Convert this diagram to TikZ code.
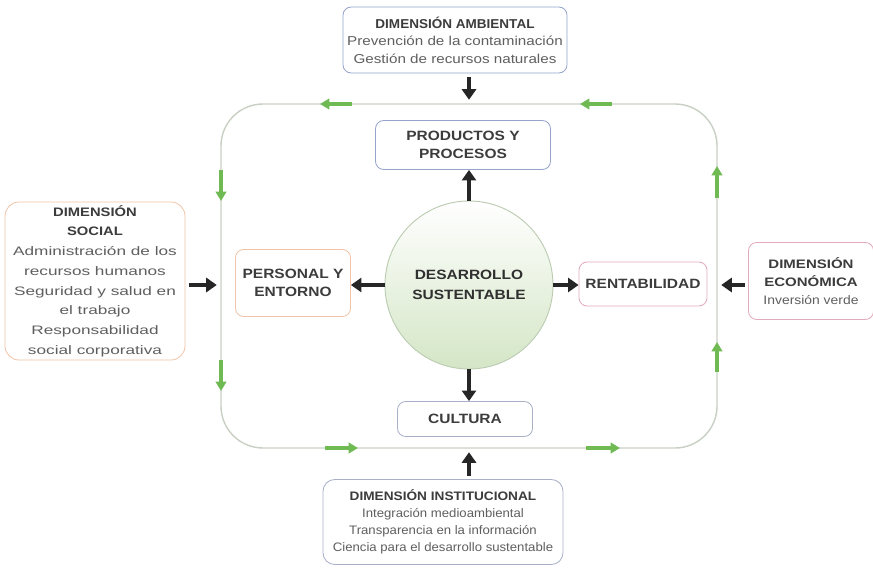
\documentclass[tikz,border=0pt]{standalone}
\usepackage{fontspec}
\setmainfont{Liberation Sans}
\usetikzlibrary{arrows.meta}
\definecolor{loopgray}{RGB}{200,208,196}
\definecolor{leafgreen}{RGB}{112,186,84}
\definecolor{boxblue}{RGB}{150,164,204}
\definecolor{boxpeach}{RGB}{240,196,168}
\definecolor{boxpink}{RGB}{226,170,186}
\definecolor{boxgray}{RGB}{168,176,200}
\definecolor{headtext}{RGB}{60,60,60}
\definecolor{bodytext}{RGB}{95,95,95}
\definecolor{ballfill}{RGB}{212,230,198}
\definecolor{balledge}{RGB}{188,204,178}
\newcommand{\fstretch}[1]{\addfontfeatures{FakeStretch=#1}}
\newcommand{\hd}[2][1.05]{{\bfseries\fstretch{#1}\color{headtext}#2}}
\begin{document}
\begin{tikzpicture}[x=0.03cm, y=-0.03cm,
  dim box/.style={draw, rounded corners=7pt, fill=white, align=center, inner sep=2pt, line width=0.7pt,
    text=bodytext, font=\fontsize{10.5}{14.5}\selectfont},
  core box/.style={dim box, text=headtext, font=\bfseries\fontsize{11.5}{15.5}\selectfont\fstretch{1.15}},
  big arrow/.style={-{Triangle[length=9pt,width=12pt]}, line width=3pt, draw=black!85},
  green arrow/.style={-{Triangle[length=8pt,width=9pt]}, line width=3pt, draw=leafgreen}]
\useasboundingbox (0,0) rectangle (873,568);
% ciclo
\node[draw=loopgray, line width=1.2pt, rounded corners=1.26cm, minimum width=14.88cm, minimum height=10.32cm] (ciclo) at (469,276) {};
\begin{scope}
\draw[green arrow] (352,104) -- (320,104);
\draw[green arrow] (612,104) -- (580,104);
\draw[green arrow] (221,170) -- (221,201);
\draw[green arrow] (221,360) -- (221,391);
\draw[green arrow] (325,448) -- (358,448);
\draw[green arrow] (586,448) -- (620,448);
\draw[green arrow] (717,198) -- (717,166);
\draw[green arrow] (717,372) -- (717,342);
\end{scope}
% dimensiones
\node[dim box, draw=boxblue, minimum width=6.72cm, minimum height=1.98cm,
  font=\fontsize{11}{15}\selectfont\fstretch{1.18}] (amb) at (455,40)
  {\hd[1.05]{DIMENSIÓN AMBIENTAL}\\Prevención de la contaminación\\Gestión de recursos naturales};
\node[dim box, draw=boxpeach, minimum width=5.4cm, minimum height=4.74cm, rounded corners=12pt,
  font=\fontsize{10.5}{16.8}\selectfont\fstretch{1.4}] (soc) at (95,281)
  {\hd[1.2]{DIMENSIÓN}\\\hd[1.2]{SOCIAL}\\Administración de los\\recursos humanos\\Seguridad y salud en\\el trabajo\\Responsabilidad\\social corporativa};
\node[dim box, draw=boxpink, minimum width=3.75cm, minimum height=2.31cm,
  font=\fontsize{10.5}{15.5}\selectfont\fstretch{1.13}] (eco) at (811,281)
  {\hd[1.22]{DIMENSIÓN}\\\hd[1.22]{ECONÓMICA}\\Inversión verde};
\node[dim box, draw=boxgray, minimum width=7.2cm, minimum height=2.55cm, rounded corners=10pt,
  font=\fontsize{10.5}{14.5}\selectfont\fstretch{1.07}] (inst) at (443,522)
  {\hd[1.11]{DIMENSIÓN INSTITUCIONAL}\\Integración medioambiental\\Transparencia en la información\\Ciencia para el desarrollo sustentable};
% nucleo
\node[circle, draw=balledge, line width=0.8pt, top color=white, bottom color=ballfill, minimum size=5.04cm,
  align=center, text=headtext!80!black, font=\bfseries\fontsize{11.5}{17}\selectfont\fstretch{1.15}] (des) at (469,285)
  {DESARROLLO\\SUSTENTABLE};
\node[core box, draw=boxblue, minimum width=5.25cm, minimum height=1.47cm] (prod) at (463,145) {PRODUCTOS Y\\PROCESOS};
\node[core box, draw=boxpeach, minimum width=3.45cm, minimum height=2.01cm] (pers) at (293,283) {PERSONAL Y\\ENTORNO};
\node[core box, draw=boxpink, minimum width=3.84cm, minimum height=1.32cm] (rent) at (643,284) {RENTABILIDAD};
\node[core box, draw=boxgray, minimum width=4.05cm, minimum height=1.05cm] (cult) at (465,419) {CULTURA};
% flechas
\begin{scope}[shorten <=3pt, shorten >=3pt]
\draw[big arrow] (amb.south -| des) -- (ciclo.north -| des);
\draw[big arrow] (soc.east |- des) -- (ciclo.west |- des);
\draw[big arrow] (eco.west |- des) -- (ciclo.east |- des);
\draw[big arrow] (inst.north -| des) -- (ciclo.south -| des);
\end{scope}
\draw[big arrow] (des.north) -- (des.north |- prod.south);
\draw[big arrow] (des.west) -- (des.west -| pers.east);
\draw[big arrow] (des.east) -- (des.east -| rent.west);
\draw[big arrow] (des.south) -- (des.south |- cult.north);
\end{tikzpicture}
\end{document}
